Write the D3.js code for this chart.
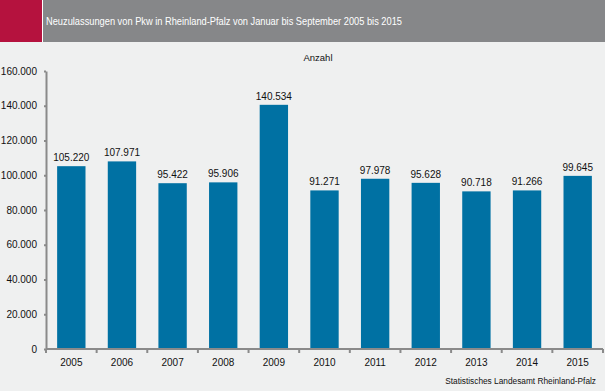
<!DOCTYPE html>
<html>
<head>
<meta charset="utf-8">
<script src="https://cdn.jsdelivr.net/npm/d3@7"></script>
<style>
  body { margin: 0; background: #eff0f0; }
  svg { display: block; font-family: "Liberation Sans", Arial, sans-serif; }
  .axis path, .axis line { stroke: #8a8a8a; stroke-width: 2px; }
  .axis text { fill: #111; font-size: 10px; }
</style>
</head>
<body>
<svg id="chart" width="605" height="391"></svg>
<script>
const years = ["2005", "2006", "2007", "2008", "2009", "2010", "2011", "2012", "2013", "2014", "2015"];
const values = [105220, 107971, 95422, 95906, 140534, 91271, 97978, 95628, 90718, 91266, 99645];
const yTicks = [0, 20000, 40000, 60000, 80000, 100000, 120000, 140000, 160000];

const title = "Neuzulassungen von Pkw in Rheinland-Pfalz von Januar bis September 2005 bis 2015";
const source = "Statistisches Landesamt Rheinland-Pfalz";

const svg = d3.select("#chart");
const fmt = d3.formatLocale({ decimal: ",", thousands: ".", grouping: [3], currency: ["", "€"] }).format(",.0f");

// header band
svg.append("rect").attr("x", 0).attr("y", 0).attr("width", 605).attr("height", 42).attr("fill", "#868789");
svg.append("rect").attr("x", 0).attr("y", 0).attr("width", 42).attr("height", 42).attr("fill", "#b5123e");
svg.append("rect").attr("x", 42).attr("y", 0).attr("width", 1).attr("height", 42).attr("fill", "#ffffff");
svg.append("text")
  .attr("x", 46).attr("y", 25)
  .attr("fill", "#ffffff")
  .style("font-size", "10.5px")
  .attr("textLength", 356)
  .attr("lengthAdjust", "spacingAndGlyphs")
  .text(title);

const x = d3.scaleBand().domain(years).range([46, 603]).paddingInner(0.44).paddingOuter(0.22);
const y = d3.scaleLinear().domain([0, 160000]).range([349, 71]);

svg.append("text")
  .attr("x", 318).attr("y", 61)
  .attr("text-anchor", "middle")
  .attr("fill", "#111")
  .style("font-size", "9.5px")
  .text("Anzahl");

// bars
svg.append("g").selectAll("rect")
  .data(years)
  .enter()
  .append("rect")
  .attr("x", (d) => x(d))
  .attr("y", (d, i) => y(values[i]))
  .attr("width", x.bandwidth())
  .attr("height", (d, i) => y(0) - y(values[i]))
  .attr("fill", "#0071a3");

svg.append("g").selectAll("text")
  .data(years)
  .enter()
  .append("text")
  .attr("x", (d) => x(d) + x.bandwidth() / 2)
  .attr("y", (d, i) => y(values[i]) - 5)
  .attr("text-anchor", "middle")
  .attr("fill", "#111")
  .style("font-size", "10px")
  .text((d, i) => fmt(values[i]));

// axes
svg.append("g")
  .attr("class", "axis")
  .attr("transform", "translate(46,0)")
  .call(d3.axisLeft(y).tickValues(yTicks).tickFormat(fmt).tickSize(2).tickSizeOuter(0).tickPadding(7));

const xAxis = svg.append("g")
  .attr("class", "axis")
  .attr("transform", "translate(0,349)")
  .call(d3.axisBottom(x).tickSize(0).tickPadding(10));
xAxis.select(".domain").attr("d", "M46,0H603");

// category separators on x axis
const bounds = d3.range(years.length + 1).map((i) => 46 + i * (557 / years.length));
xAxis.selectAll(".sep")
  .data(bounds)
  .enter()
  .append("line")
  .attr("class", "sep")
  .attr("x1", (d) => d).attr("x2", (d) => d)
  .attr("y1", 0).attr("y2", 4);

svg.append("text")
  .attr("x", 596).attr("y", 384)
  .attr("text-anchor", "end")
  .attr("fill", "#111")
  .style("font-size", "8.3px")
  .text(source);
</script>
</body>
</html>
